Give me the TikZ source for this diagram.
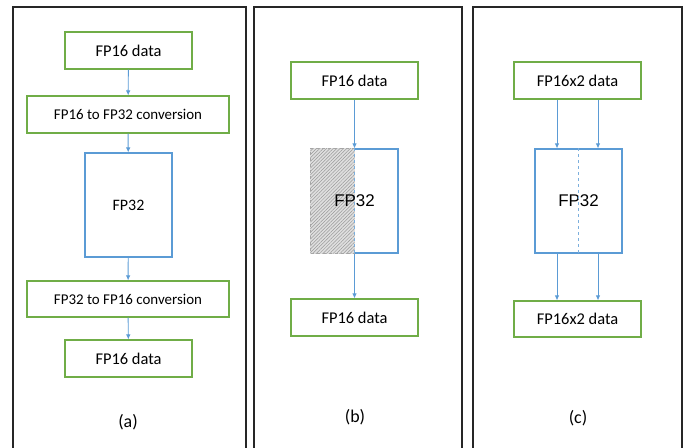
\documentclass[tikz,border=0pt]{standalone}
\usepackage{fontspec}
\setmainfont{Carlito}
\newfontfamily\arialfont{Liberation Sans}
\usetikzlibrary{arrows.meta,patterns.meta}

\definecolor{boxgreen}{RGB}{112,173,71}
\definecolor{boxblue}{RGB}{91,155,213}

\tikzset{
    databox/.style={draw=boxgreen, line width=1.1bp, minimum width=127bp, minimum height=37bp,
        inner sep=0pt, font=\fontsize{16.5}{18}\selectfont},
    convbox/.style={databox, minimum width=202bp, font=\fontsize{15}{17}\selectfont},
    fpbox/.style={draw=boxblue, line width=1.1bp, minimum width=87bp, minimum height=104bp, inner sep=0pt},
    arr/.style={draw=boxblue, line width=0.9bp, -{Latex[length=5bp,width=4.5bp]}},
    panel/.style={draw=black!85, line width=1.1bp},
    caption/.style={font=\fontsize{18}{20}\selectfont}
}

\begin{document}
\begin{tikzpicture}[x=1bp, y=-1bp]
    \useasboundingbox (0,0) rectangle (684,448);

    % Panels
    \draw[panel] (13,449) -- (13,7) -- (246,7) -- (246,449);
    \draw[panel] (254,449) -- (254,7) -- (462,7) -- (462,449);
    \draw[panel] (473,449) -- (473,7) -- (682,7) -- (682,449);

    % (a) conversion path
    \node[databox] (dataA1) at (128.5,50.5) {FP16 data};
    \node[convbox] (convA1) at (128,114.5) {FP16 to FP32 conversion};
    \node[fpbox, font=\fontsize{16}{18}\selectfont] (fpA) at (128.5,205) {FP32};
    \node[convbox, minimum height=36bp] (convA2) at (128,299) {FP32 to FP16 conversion};
    \node[databox] (dataA2) at (128.5,358.5) {FP16 data};
    \draw[arr] (dataA1) -- (convA1);
    \draw[arr] (convA1) -- (fpA);
    \draw[arr] (fpA) -- (convA2);
    \draw[arr] (convA2) -- (dataA2);
    \node[caption] (capA) at (128,422) {(a)};

    % (b) half of FP32 used
    \node[databox] (dataB1) at (354.5,80.5) {FP16 data};
    \node[fpbox] (fpB) at (354.5,201) {};
    \fill[gray!25] (fpB.north west) rectangle (fpB.south);
    \fill[pattern={Lines[angle=45,distance=2.4pt,line width=0.5pt]}, pattern color=gray!80]
        (fpB.north west) rectangle (fpB.south);
    \draw[gray!70, dashed, line width=0.8bp] (fpB.north) -- (fpB.north west) -- (fpB.south west) -- (fpB.south);
    \draw[boxblue!80, dashed, line width=0.8bp] (fpB.north) -- (fpB.south);
    \node[font=\arialfont\fontsize{17}{19}\selectfont] (fpBtext) at (fpB.center) {FP32};
    \node[databox] (dataB2) at (354.5,317.5) {FP16 data};
    \draw[arr] (dataB1) -- (fpB);
    \draw[arr] (fpB) -- (dataB2);
    \node[caption] (capB) at (355,417) {(b)};

    % (c) two FP16 packed in FP32
    \node[databox] (dataC1) at (577.5,80.5) {FP16x2 data};
    \node[fpbox, font=\arialfont\fontsize{17}{19}\selectfont] (fpC) at (578.5,201) {FP32};
    \draw[boxblue!80, dashed, line width=0.8bp] (fpC.north) -- (fpC.south);
    \node[databox, minimum height=36bp] (dataC2) at (577.5,319) {FP16x2 data};
    \coordinate (cL) at (557,0);
    \coordinate (cR) at (598,0);
    \draw[arr] (cL |- dataC1.south) -- (cL |- fpC.north);
    \draw[arr] (cR |- dataC1.south) -- (cR |- fpC.north);
    \draw[arr] (cL |- fpC.south) -- (cL |- dataC2.north);
    \draw[arr] (cR |- fpC.south) -- (cR |- dataC2.north);
    \node[caption] (capC) at (578,418) {(c)};
\end{tikzpicture}
\end{document}
